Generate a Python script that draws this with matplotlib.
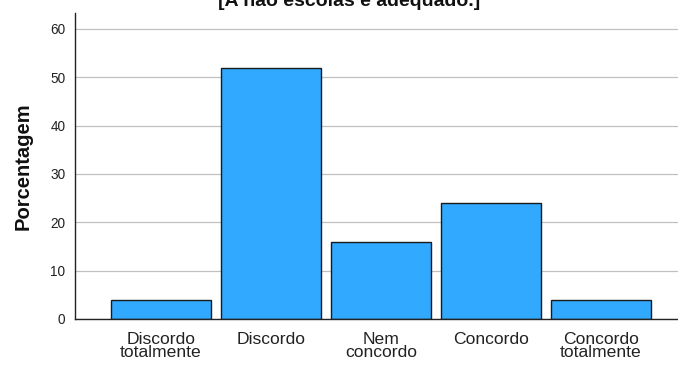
import matplotlib
matplotlib.use("Agg")
import matplotlib.pyplot as plt

categories = ["Discordo\ntotalmente", "Discordo", "Nem\nconcordo", "Concordo", "Concordo\ntotalmente"]
percentages = [4, 52, 16, 24, 4]
y_ticks = [0, 10, 20, 30, 40, 50, 60]
title_text = "[A não escolas é adequado.]"

plt.rcParams["font.family"] = ["Liberation Sans", "DejaVu Sans"]

W, H = 678, 369
fig = plt.figure(figsize=(W / 100, H / 100), dpi=100)
ax = fig.add_axes([75 / W, (H - 319) / H, (W - 75) / W, (319 - 13) / H])

x = list(range(len(categories)))
ax.bar(x, percentages, width=100 / 110, color="#31A9FF", edgecolor="#1a1a1a",
       linewidth=1.0, zorder=3)

ax.set_xlim(-86 / 110, (W - 161) / 110)
ax.set_ylim(0, 63.3)
ax.set_yticks(y_ticks)
ax.set_yticklabels([str(t) for t in y_ticks], fontsize=9.8, color="#222222")
ax.set_xticks(x)
ax.set_xticklabels(categories, fontsize=12.6, color="#222222", linespacing=0.85)
ax.tick_params(axis="both", length=0)
ax.tick_params(axis="y", pad=7)
ax.tick_params(axis="x", pad=9)

ax.yaxis.grid(True, color="#c0c0c0", linewidth=0.9, zorder=0)
ax.set_axisbelow(True)
for side in ("top", "right"):
    ax.spines[side].set_visible(False)
for side in ("left", "bottom"):
    ax.spines[side].set_color("#222222")
    ax.spines[side].set_linewidth(1.0)
    ax.spines[side].set_zorder(4)

ax.set_ylabel("Porcentagem", fontsize=14.5, fontweight="bold", color="#111111")
ax.yaxis.set_label_coords(-(75 - 33) / (W - 75), 0.5)

fig.text(349 / W, (H - 6) / H, title_text, ha="center", va="baseline",
         fontsize=14, fontweight="bold", color="#111111")

fig.savefig("out.png", dpi=100)
